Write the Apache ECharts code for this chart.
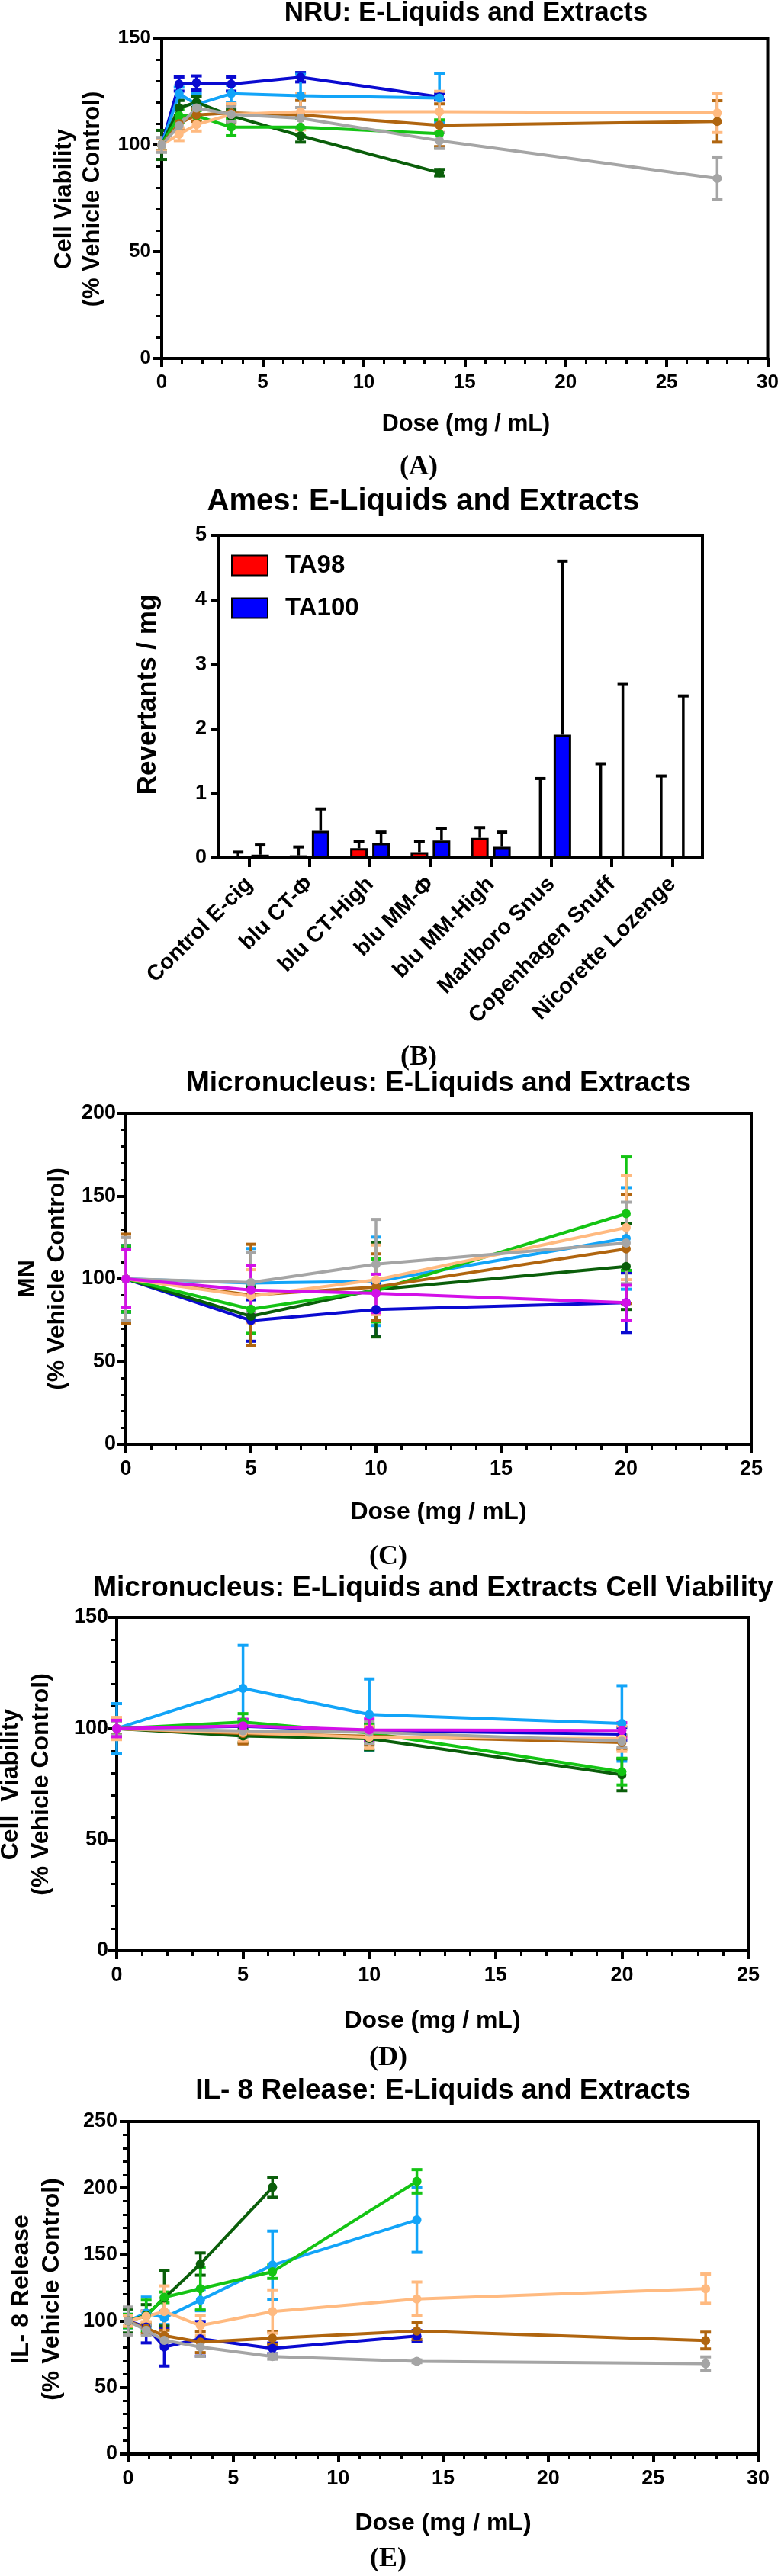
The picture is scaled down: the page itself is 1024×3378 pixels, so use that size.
<!DOCTYPE html>
<html><head><meta charset="utf-8">
<script src="https://cdn.jsdelivr.net/npm/echarts@6/dist/echarts.min.js"></script>
<style>html,body{margin:0;padding:0;background:#fff}#c{width:1024px;height:3378px}</style>
</head><body><div id="c"></div>
<script>
// ================= DATA =================
// doses (mg/mL)
const doseNRU = [0, 0.86, 1.72, 3.44, 6.875, 13.75, 27.5];
const doseMN = [0, 5, 10, 20];
const doseIL8 = [0, 0.86, 1.72, 3.44, 6.875, 13.75, 27.5];

// (A) NRU cell viability (% vehicle control), mean and SD
const nruDarkBlue = [100, 128.5, 129, 128.5, 131.7, 122.5];
const nruDarkBlueSD = [3, 3.3, 3.3, 3.3, 2.2, 1.5];
const nruLightBlue = [100, 124, 119, 124, 123, 122];
const nruLightBlueSD = [3, 3, 5, 4, 10, 11.5];
const nruDarkGreen = [100, 117.3, 120, 113.6, 104.3, 87];
const nruDarkGreenSD = [6.8, 3.5, 2.5, 3, 3, 1.5];
const nruGreen = [100, 113.7, 113.6, 108.3, 108.3, 105.3];
const nruGreenSD = [3, 3, 2.5, 4, 4, 6.4];
const nruBrown = [100, 110, 114, 115, 114, 109.2, 111];
const nruBrownSD = [3, 3, 3, 4, 6.8, 10, 9.7];
const nruOrange = [100, 105, 109.5, 114.3, 115.5, 115.5, 115];
const nruOrangeSD = [3, 3, 3, 5, 8.5, 9.6, 9.2];
const nruGray = [100, 109, 117.3, 114.3, 112.5, 102, 84.3];
const nruGraySD = [3.5, 3, 3, 3.5, 5, 3.7, 10];

// (B) Ames revertants / mg
const amesCategories = ['Control E-cig', 'blu CT-Φ', 'blu CT-High', 'blu MM-Φ', 'blu MM-High', 'Marlboro Snus', 'Copenhagen Snuff', 'Nicorette Lozenge'];
const amesTA98 = [0, 0.04, 0.15, 0.09, 0.31, 0, 0, 0];
const amesTA98SD = [0.09, 0.13, 0.10, 0.16, 0.16, 1.23, 1.46, 1.27];
const amesTA100 = [0.05, 0.42, 0.23, 0.27, 0.17, 1.91, 0, 0];
const amesTA100SD = [0.15, 0.34, 0.17, 0.18, 0.23, 2.69, 2.70, 2.51];

// (C) Micronucleus MN (% vehicle control)
const mnDarkBlue = [100, 74.8, 81.4, 85.6];
const mnDarkBlueSD = [20, 12.5, 16, 18];
const mnLightBlue = [100, 97.5, 98.5, 124.4];
const mnLightBlueSD = [20, 20.8, 26.7, 30.7];
const mnDarkGreen = [100, 77.4, 93.5, 107.5];
const mnDarkGreenSD = [20, 17.6, 28.6, 26];
const mnGreen = [100, 81.7, 93, 139.4];
const mnGreenSD = [20, 14.6, 19, 34.3];
const mnBrown = [100, 90.2, 95.1, 118.1];
const mnBrownSD = [27, 30.7, 20, 33];
const mnOrange = [100, 89.5, 99.4, 131];
const mnOrangeSD = [25, 16, 21, 31.5];
const mnGray = [100, 97.8, 108.9, 121.7];
const mnGraySD = [25, 18, 27, 24.6];
const mnMagenta = [100, 93.2, 91.2, 85.6];
const mnMagentaSD = [17.5, 15, 11.6, 10.5];

// (D) Micronucleus cell viability (% vehicle control)
const cvDarkBlue = [100, 101, 99, 97.5];
const cvDarkBlueSD = [3, 3, 3, 3];
const cvLightBlue = [100, 118.1, 106.3, 102.3];
const cvLightBlueSD = [11.2, 19.3, 16, 17];
const cvDarkGreen = [100, 96.6, 95.4, 79.2];
const cvDarkGreenSD = [3, 3, 5, 7.2];
const cvGreen = [100, 102.9, 98, 80.6];
const cvGreenSD = [3, 3.8, 4, 6];
const cvBrown = [100, 97.7, 96.5, 93.7];
const cvBrownSD = [3, 4.6, 4, 3];
const cvOrange = [100, 98.2, 96, 95.4];
const cvOrangeSD = [5, 4, 5, 5.7];
const cvGray = [100, 98.9, 98.3, 94.3];
const cvGraySD = [3, 3, 5, 3];
const cvMagenta = [100, 101.2, 99.4, 99.1];
const cvMagentaSD = [3.7, 3, 4.9, 3.5];

// (E) IL-8 release (% vehicle control)
const ilDarkBlue = [100, 95.5, 80.4, 86.6, 79.4, 88.8];
const ilDarkBlueSD = [5, 12, 14.3, 13, 4, 4];
const ilLightBlue = [100, 106, 102.4, 115.7, 142, 176];
const ilLightBlueSD = [5, 12, 5, 8, 25.6, 24.4];
const ilDarkGreen = [100, 104.3, 117.2, 142.8, 200.5];
const ilDarkGreenSD = [9, 8, 21, 8.4, 7.5];
const ilGreen = [100, 103.7, 117.8, 124.3, 137, 205];
const ilGreenSD = [5, 12, 4, 16, 5, 8.8];
const ilBrown = [100, 94.5, 89, 84.2, 87, 92.5, 85.3];
const ilBrownSD = [4, 4, 4, 8, 5, 6.4, 6.3];
const ilOrange = [100, 103.5, 107.1, 96.6, 107.1, 116.6, 124.3];
const ilOrangeSD = [4, 4, 19.3, 7.4, 16.3, 12.7, 11];
const ilGray = [100, 93, 85.5, 80.4, 73.3, 69.7, 68];
const ilGraySD = [10.5, 4, 3, 7, 2, 1, 5];

// tick settings
const yTicksNRU = {min: 0, max: 150, interval: 50};
const yTicksAmes = {min: 0, max: 5, interval: 1};
const yTicksMN = {min: 0, max: 200, interval: 50};
const yTicksCV = {min: 0, max: 150, interval: 50};
const yTicksIL8 = {min: 0, max: 250, interval: 50};
const xTicks30 = {min: 0, max: 30, interval: 5};
const xTicks25 = {min: 0, max: 25, interval: 5};

// ================= STYLE =================
const C = {
  darkBlue: '#0a0ad0', lightBlue: '#12a4f8', darkGreen: '#0a5e0a', green: '#14c414',
  brown: '#b0650f', orange: '#ffba80', gray: '#a5a5a5', magenta: '#d310e8'
};
const SANS = "'Liberation Sans', Arial, Helvetica, sans-serif";
const SERIF = "'Liberation Serif', 'Times New Roman', serif";

const chart = echarts.init(document.getElementById('c'), null, {renderer: 'canvas'});

const grids = [
  {left: 212, top: 50, width: 795, height: 420},
  {left: 287, top: 702, width: 634, height: 423},
  {left: 165, top: 1460, width: 820, height: 434},
  {left: 153, top: 2121, width: 828, height: 437},
  {left: 168, top: 2782, width: 826, height: 436}
].map(g => Object.assign({show: true, borderColor: '#000', borderWidth: 4, containLabel: false}, g));

function valueAxis(gi, ticks, labelSize, margin, minor) {
  return Object.assign({
    type: 'value', gridIndex: gi,
    axisLine: {show: true, onZero: false, lineStyle: {color: '#000', width: 4}},
    axisTick: {show: true, length: 11, lineStyle: {color: '#000', width: 4}},
    minorTick: {show: minor, splitNumber: 5, length: 7, lineStyle: {color: '#000', width: 3}},
    splitLine: {show: false}, minorSplitLine: {show: false},
    axisLabel: {color: '#000', fontSize: labelSize, fontWeight: 'bold', fontFamily: SANS, margin: margin}
  }, ticks);
}

const xAxes = [
  valueAxis(0, xTicks30, 26, 19, true),
  {
    type: 'category', gridIndex: 1, data: amesCategories,
    axisLine: {show: true, lineStyle: {color: '#000', width: 4}},
    axisTick: {show: true, alignWithLabel: true, length: 12, lineStyle: {color: '#000', width: 4}},
    axisLabel: {color: '#000', fontSize: 29, fontWeight: 'bold', fontFamily: SANS, rotate: 45, interval: 0, margin: 30},
    splitLine: {show: false}
  },
  valueAxis(2, xTicks25, 27, 19, true),
  valueAxis(3, xTicks25, 27, 19, true),
  valueAxis(4, xTicks30, 27, 19, true)
];
const yAxes = [
  valueAxis(0, yTicksNRU, 26, 14, true),
  valueAxis(1, yTicksAmes, 27, 16, false),
  valueAxis(2, yTicksMN, 27, 13, true),
  valueAxis(3, yTicksCV, 27, 11, true),
  valueAxis(4, yTicksIL8, 27, 14, true)
];

function errRender(color) {
  return function (params, api) {
    const x = api.value(0), lo = api.value(1), hi = api.value(2);
    const a = api.coord([x, hi]), b = api.coord([x, lo]);
    const c = 7;
    return {type: 'group', children: [
      {type: 'line', shape: {x1: a[0], y1: a[1], x2: b[0], y2: b[1]}, style: {stroke: color, lineWidth: 3.5}},
      {type: 'line', shape: {x1: a[0] - c, y1: a[1], x2: a[0] + c, y2: a[1]}, style: {stroke: color, lineWidth: 4}},
      {type: 'line', shape: {x1: b[0] - c, y1: b[1], x2: b[0] + c, y2: b[1]}, style: {stroke: color, lineWidth: 4}}
    ]};
  };
}

const series = [];
function addLine(gi, name, doses, means, sds, color) {
  series.push({
    type: 'custom', name: name + ' SD', xAxisIndex: gi, yAxisIndex: gi, silent: true,
    renderItem: errRender(color), encode: {x: 0, y: [1, 2]},
    data: means.map((m, i) => [doses[i], m - sds[i], m + sds[i]])
  });
  series.push({
    type: 'line', name: name, xAxisIndex: gi, yAxisIndex: gi, silent: true,
    symbol: 'circle', symbolSize: 12, showSymbol: true,
    lineStyle: {color: color, width: 4}, itemStyle: {color: color},
    data: means.map((m, i) => [doses[i], m])
  });
}

// (A)
addLine(0, 'A darkBlue', doseNRU, nruDarkBlue, nruDarkBlueSD, C.darkBlue);
addLine(0, 'A lightBlue', doseNRU, nruLightBlue, nruLightBlueSD, C.lightBlue);
addLine(0, 'A darkGreen', doseNRU, nruDarkGreen, nruDarkGreenSD, C.darkGreen);
addLine(0, 'A green', doseNRU, nruGreen, nruGreenSD, C.green);
addLine(0, 'A brown', doseNRU, nruBrown, nruBrownSD, C.brown);
addLine(0, 'A orange', doseNRU, nruOrange, nruOrangeSD, C.orange);
addLine(0, 'A gray', doseNRU, nruGray, nruGraySD, C.gray);

// (B)
const BAR_W = 23, BAR_GAP = 0.26;
const barOffset = BAR_W * (1 + BAR_GAP) / 2;
function amesErr(offset) {
  return function (params, api) {
    const i = api.value(0), m = api.value(1), hi = api.value(2);
    const a = api.coord([i, hi]), b = api.coord([i, m]);
    const x = a[0] + offset, c = 7;
    return {type: 'group', children: [
      {type: 'line', shape: {x1: x, y1: a[1], x2: x, y2: b[1]}, style: {stroke: '#000', lineWidth: 3.5}},
      {type: 'line', shape: {x1: x - c, y1: a[1], x2: x + c, y2: a[1]}, style: {stroke: '#000', lineWidth: 4}}
    ]};
  };
}
series.push({
  type: 'bar', name: 'TA98', xAxisIndex: 1, yAxisIndex: 1, data: amesTA98,
  barWidth: BAR_W, barGap: (BAR_GAP * 100) + '%',
  itemStyle: {color: '#ff0000', borderColor: '#000', borderWidth: 3}, silent: true
});
series.push({
  type: 'bar', name: 'TA100', xAxisIndex: 1, yAxisIndex: 1, data: amesTA100,
  barWidth: BAR_W, barGap: (BAR_GAP * 100) + '%',
  itemStyle: {color: '#0000ff', borderColor: '#000', borderWidth: 3}, silent: true
});
series.push({
  type: 'custom', name: 'TA98 SD', xAxisIndex: 1, yAxisIndex: 1, z: 3, silent: true,
  renderItem: amesErr(-barOffset), encode: {x: 0, y: [1, 2]},
  data: amesTA98.map((m, i) => [i, m, m + amesTA98SD[i]])
});
series.push({
  type: 'custom', name: 'TA100 SD', xAxisIndex: 1, yAxisIndex: 1, z: 3, silent: true,
  renderItem: amesErr(barOffset), encode: {x: 0, y: [1, 2]},
  data: amesTA100.map((m, i) => [i, m, m + amesTA100SD[i]])
});

// (C)
addLine(2, 'C darkBlue', doseMN, mnDarkBlue, mnDarkBlueSD, C.darkBlue);
addLine(2, 'C lightBlue', doseMN, mnLightBlue, mnLightBlueSD, C.lightBlue);
addLine(2, 'C darkGreen', doseMN, mnDarkGreen, mnDarkGreenSD, C.darkGreen);
addLine(2, 'C green', doseMN, mnGreen, mnGreenSD, C.green);
addLine(2, 'C brown', doseMN, mnBrown, mnBrownSD, C.brown);
addLine(2, 'C orange', doseMN, mnOrange, mnOrangeSD, C.orange);
addLine(2, 'C gray', doseMN, mnGray, mnGraySD, C.gray);
addLine(2, 'C magenta', doseMN, mnMagenta, mnMagentaSD, C.magenta);

// (D)
addLine(3, 'D darkBlue', doseMN, cvDarkBlue, cvDarkBlueSD, C.darkBlue);
addLine(3, 'D lightBlue', doseMN, cvLightBlue, cvLightBlueSD, C.lightBlue);
addLine(3, 'D darkGreen', doseMN, cvDarkGreen, cvDarkGreenSD, C.darkGreen);
addLine(3, 'D green', doseMN, cvGreen, cvGreenSD, C.green);
addLine(3, 'D brown', doseMN, cvBrown, cvBrownSD, C.brown);
addLine(3, 'D orange', doseMN, cvOrange, cvOrangeSD, C.orange);
addLine(3, 'D gray', doseMN, cvGray, cvGraySD, C.gray);
addLine(3, 'D magenta', doseMN, cvMagenta, cvMagentaSD, C.magenta);

// (E)
addLine(4, 'E darkBlue', doseIL8, ilDarkBlue, ilDarkBlueSD, C.darkBlue);
addLine(4, 'E lightBlue', doseIL8, ilLightBlue, ilLightBlueSD, C.lightBlue);
addLine(4, 'E darkGreen', doseIL8, ilDarkGreen, ilDarkGreenSD, C.darkGreen);
addLine(4, 'E green', doseIL8, ilGreen, ilGreenSD, C.green);
addLine(4, 'E brown', doseIL8, ilBrown, ilBrownSD, C.brown);
addLine(4, 'E orange', doseIL8, ilOrange, ilOrangeSD, C.orange);
addLine(4, 'E gray', doseIL8, ilGray, ilGraySD, C.gray);

// ================= TEXT =================
function txt(x, y, text, size, opt) {
  opt = opt || {};
  return {
    type: 'text', x: x, y: y, rotation: opt.rot || 0, silent: true,
    style: {
      text: text, fill: '#000', fontSize: size, fontWeight: 'bold',
      fontFamily: opt.serif ? SERIF : SANS,
      align: 'center', verticalAlign: 'middle', textAlign: 'center', textVerticalAlign: 'middle',
      lineHeight: opt.lh || Math.round(size * 1.2)
    }
  };
}
const R = Math.PI / 2;
const graphics = [
  txt(611, 17, 'NRU: E-Liquids and Extracts', 35),
  txt(555, 658, 'Ames: E-Liquids and Extracts', 40),
  txt(575, 1421, 'Micronucleus: E-Liquids and Extracts', 37),
  txt(568, 2083, 'Micronucleus: E-Liquids and Extracts Cell Viability', 37),
  txt(581, 2742, 'IL- 8 Release: E-Liquids and Extracts', 37),

  txt(611, 557, 'Dose (mg / mL)', 30.5),
  txt(575, 1983, 'Dose (mg / mL)', 32),
  txt(567, 2650, 'Dose (mg / mL)', 32),
  txt(581, 3309, 'Dose (mg / mL)', 32),

  txt(103, 261, 'Cell Viability\n(% Vehicle Control)', 31, {rot: R, lh: 37}),
  txt(194, 911, 'Revertants / mg', 35, {rot: R}),
  txt(55.5, 1677, 'MN\n(% Vehicle Control)', 32, {rot: R, lh: 39}),
  txt(34.5, 2340, 'Cell  Viability\n(% Vehicle Control)', 32, {rot: R, lh: 40}),
  txt(48, 3002, 'IL- 8 Release\n(% Vehicle Control)', 32, {rot: R, lh: 40}),

  txt(549, 613, '(A)', 36, {serif: true}),
  txt(549, 1387, '(B)', 36, {serif: true}),
  txt(509, 2042, '(C)', 36, {serif: true}),
  txt(509, 2699, '(D)', 36, {serif: true}),
  txt(509, 3356, '(E)', 36, {serif: true})
];

chart.setOption({
  animation: false,
  backgroundColor: '#fff',
  grid: grids,
  xAxis: xAxes,
  yAxis: yAxes,
  legend: {
    data: ['TA98', 'TA100'], orient: 'vertical', left: 298, top: 720,
    itemWidth: 47, itemHeight: 26, itemGap: 23, icon: 'rect', selectedMode: false,
    textStyle: {color: '#000', fontSize: 33, fontWeight: 'bold', fontFamily: SANS, padding: [0, 0, 0, 18]}
  },
  series: series,
  graphic: graphics
});
</script></body></html>
